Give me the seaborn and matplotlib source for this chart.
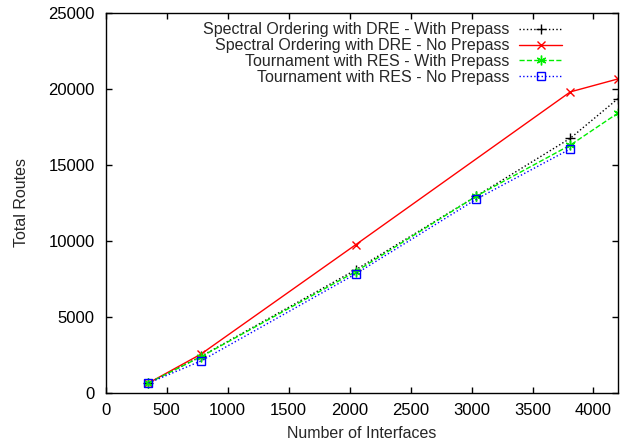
import matplotlib
matplotlib.use("Agg")
import matplotlib.pyplot as plt
import seaborn as sns

# data
x_six = [350, 780, 2050, 3040, 3810, 4200]
x_red = [350, 780, 2050, 3810, 4200]
x_blue = [350, 780, 2050, 3040, 3810]

spectral_prepass = [650, 2400, 8100, 12950, 16750, 19350]
spectral_noprepass = [650, 2550, 9750, 19800, 20650]
tourn_prepass = [650, 2380, 7980, 12950, 16300, 18400]
tourn_noprepass = [650, 2100, 7830, 12750, 16050]

labels = ['Spectral Ordering with DRE - With Prepass',
          'Spectral Ordering with DRE - No Prepass',
          'Tournament with RES - With Prepass',
          'Tournament with RES - No Prepass']

sns.set_style("ticks")
plt.rcParams['font.family'] = ['Liberation Sans', 'DejaVu Sans']

fig = plt.figure(figsize=(6.26, 4.42), dpi=100)
ax = fig.add_axes([0.169, 0.111, 0.818, 0.860])

sns.lineplot(x=x_six, y=spectral_prepass, ax=ax, color='black', linestyle=':',
             linewidth=1, marker='+', markersize=7, markeredgewidth=1,
             markeredgecolor='black', label=labels[0])
sns.lineplot(x=x_red, y=spectral_noprepass, ax=ax, color='#ff0000', linestyle='-',
             linewidth=1, marker='x', markersize=6, markeredgewidth=1,
             markeredgecolor='#ff0000', label=labels[1])
sns.lineplot(x=x_six, y=tourn_prepass, ax=ax, color='#00ee00', linestyle='--',
             linewidth=1, marker=(6, 2, 0), markersize=7, markeredgewidth=1,
             markeredgecolor='#00ee00', label=labels[2])
sns.lineplot(x=x_blue, y=tourn_noprepass, ax=ax, color='#0000ff', linestyle=':',
             linewidth=1, marker='s', markersize=6, markerfacecolor='none',
             markeredgecolor='#0000ff', markeredgewidth=1, label=labels[3])

ax.set_xlim(0, 4200)
ax.set_ylim(0, 25000)
ax.set_xticks(range(0, 4001, 500))
ax.set_yticks(range(0, 25001, 5000))
ax.tick_params(direction='in', length=4, width=1, top=True, right=True,
               labelsize=12, colors='black')
ax.tick_params(axis='y', pad=8)
ax.tick_params(axis='x', pad=7)
for s in ax.spines.values():
    s.set_visible(True)
    s.set_linewidth(1)
    s.set_color('black')

ax.set_xlabel('Number of Interfaces', fontsize=11.5, labelpad=6)
ax.set_ylabel('Total Routes', fontsize=11.5, labelpad=14)

leg = ax.legend(loc='upper right', bbox_to_anchor=(0.91, 1.0), frameon=False,
                markerfirst=False, fontsize=11.5, handlelength=2.7,
                labelspacing=0.05, handletextpad=0.6, borderaxespad=0.2)

fig.savefig('out.png', dpi=100)
